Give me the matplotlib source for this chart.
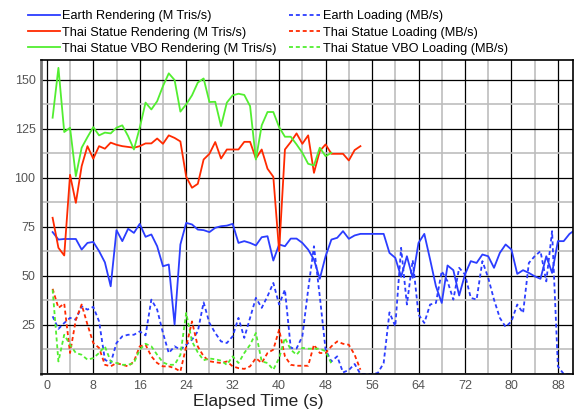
import numpy as np
import matplotlib as mpl
mpl.use('Agg')
import matplotlib.pyplot as plt
from matplotlib.ticker import MultipleLocator

plt.rcParams['font.family'] = ['Liberation Sans', 'DejaVu Sans']

# values read per ~1 s sample
earth_render = [72.3, 68.5, 68.8, 68.8, 68.8, 63.4, 66.8, 67.3, 62.6, 56.9,
                44.7, 73.3, 67.7, 74.0, 71.9, 76.5, 69.9, 71.1, 65.1, 54.9,
                55.8, 25.2, 66.0, 77.0, 76.2, 73.6, 73.3, 72.3, 74.5, 75.3,
                75.6, 76.5, 66.8, 67.7, 66.8, 65.5, 69.7, 70.2, 57.8, 66.0,
                65.1, 69.0, 69.0, 66.8, 63.4, 58.3, 48.5, 60.0, 68.5, 69.4,
                72.8, 68.9, 70.6, 71.4, 71.4, 71.4, 71.4, 71.4, 61.7, 59.2,
                49.5, 60.0, 49.0, 66.8, 71.4, 58.3, 44.7, 36.2, 55.3, 52.9,
                40.0, 50.7, 57.5, 56.6, 60.9, 60.0, 54.1, 61.7, 66.0, 63.4,
                51.0, 52.9, 51.5, 49.8, 48.5, 60.0, 51.5, 67.7, 67.7, 71.4,
                73.5]
thai_render = [79.6, 64.3, 60.4, 101.5, 87.2, 105.9, 116.1, 109.7, 116.1, 114.8,
               117.9, 116.8, 116.1, 115.7, 115.3, 116.1, 117.5, 117.5, 120.0, 117.3,
               121.6, 120.3, 118.5, 100.5, 94.9, 96.9, 109.3, 112.2, 118.2, 109.8,
               114.4, 114.4, 114.4, 118.3, 118.3, 109.8, 114.4, 104.6, 100.5, 62.6,
               114.4, 118.2, 122.6, 117.3, 121.6, 102.5, 113.6, 117.0, 112.2, 112.2,
               112.2, 108.8, 114.1, 116.1]
vbo_render = [130.6, 156.0, 123.3, 125.5, 100.8, 115.3, 120.7, 125.8, 121.6, 123.0,
              122.6, 125.5, 126.7, 121.2, 114.4, 125.5, 138.3, 134.8, 139.0, 146.7,
              153.2, 149.8, 133.7, 137.4, 142.0, 148.5, 150.6, 138.6, 138.7, 126.3,
              138.3, 142.0, 142.8, 142.2, 136.5, 109.3, 126.7, 133.5, 133.5, 125.8,
              120.9, 120.9, 117.0, 112.7, 107.1, 106.3, 115.3, 111.0, 112.7]
earth_load = [29.4, 23.0, 26.0, 28.6, 27.7, 34.5, 32.8, 34.2, 26.8, 7.3,
              5.6, 15.8, 19.2, 20.0, 20.0, 21.7, 19.7, 37.9, 32.8, 20.9,
              10.7, 14.1, 12.4, 14.9, 17.5, 21.7, 36.5, 26.0, 20.9, 16.6,
              15.8, 19.2, 28.6, 18.4, 28.6, 38.8, 33.7, 39.6, 46.4, 35.4,
              43.0, 13.3, 13.0, 19.2, 43.0, 65.1, 39.6, 12.4, 6.4, 9.0,
              0.8, 2.0, 5.1, 0.0, 0.0, 0.0, 0.5, 5.6, 31.4, 24.3,
              64.3, 35.4, 58.0, 30.3, 26.0, 35.4, 36.2, 52.4, 47.2, 37.9,
              54.1, 50.7, 38.8, 37.9, 57.5, 49.0, 37.9, 28.6, 24.0, 26.8,
              35.4, 31.1, 56.6, 60.0, 62.6, 47.2, 72.8, 3.9, 0.0, 0.0,
              0.0]
thai_load = [43.4, 33.7, 35.9, 10.7, 27.7, 35.4, 25.2, 15.8, 13.3, 4.7,
             3.9, 5.6, 4.7, 3.9, 6.4, 14.1, 14.9, 9.0, 5.6, 3.9,
             3.9, 3.0, 1.3, 14.0, 26.8, 14.0, 9.0, 6.5, 6.0, 5.6,
             6.4, 3.9, 3.0, 2.6, 3.9, 8.1, 5.6, 10.7, 12.4, 22.6,
             9.0, 4.7, 4.2, 4.2, 4.2, 14.9, 10.7, 10.7, 14.1, 16.6,
             15.4, 14.9, 9.8, 2.2]
vbo_load = [43.0, 6.4, 20.0, 14.9, 10.7, 9.8, 7.3, 8.1, 10.7, 14.1,
            6.4, 5.6, 4.7, 4.7, 5.6, 12.4, 15.4, 14.1, 9.8, 5.9,
            4.7, 4.7, 9.8, 31.1, 16.6, 11.0, 7.0, 7.9, 7.5, 6.8,
            4.7, 9.0, 5.6, 10.7, 14.9, 20.9, 6.4, 5.6, 2.2, 8.1,
            18.4, 12.4, 9.8, 13.3, 12.9, 12.9, 12.9, 11.6, 5.3]

labels = ['Earth Rendering (M Tris/s)', 'Thai Statue Rendering (M Tris/s)',
          'Thai Statue VBO Rendering (M Tris/s)', 'Earth Loading (MB/s)',
          'Thai Statue Loading (MB/s)', 'Thai Statue VBO Loading (MB/s)']

blue, red, green = '#2b3dff', '#ff2a00', '#52ee30'

fig = plt.figure(figsize=(5.74, 4.12), dpi=100)
ax = fig.add_axes([41 / 574, 1 - 374 / 412, 532 / 574, 314 / 412])

def t(v):
    return np.arange(1, len(v) + 1)

lw = 1.3
dash = (2.2, 1.6)
lines = []
lines += ax.plot(t(earth_render), earth_render, color=blue, lw=lw)
lines += ax.plot(t(thai_render), thai_render, color=red, lw=lw)
lines += ax.plot(t(vbo_render), vbo_render, color=green, lw=lw)
lines += ax.plot(t(earth_load), earth_load, color=blue, lw=lw, dashes=dash)
lines += ax.plot(t(thai_load), thai_load, color=red, lw=lw, dashes=dash)
lines += ax.plot(t(vbo_load), vbo_load, color=green, lw=lw, dashes=dash)

ax.set_xlim(-1.0, 90.6)
ax.set_ylim(0, 160)
ax.xaxis.set_major_locator(MultipleLocator(8))
ax.xaxis.set_minor_locator(MultipleLocator(4))
ax.yaxis.set_major_locator(MultipleLocator(25))
ax.yaxis.set_minor_locator(MultipleLocator(12.5))
ax.set_yticks([25, 50, 75, 100, 125, 150])
ax.grid(which='major', color='k', lw=0.9)
ax.grid(which='minor', color='#bdbdbd', lw=1.2)
ax.set_axisbelow(True)
ax.tick_params(which='both', length=0, labelsize=9, colors='#555555', pad=4)
for s in ax.spines.values():
    s.set_color('k')
    s.set_linewidth(1.2)
ax.spines['left'].set_color('#777777')
ax.spines['left'].set_linewidth(2)
ax.set_xlabel('Elapsed Time (s)', fontsize=12.5, color='#222222')
ax.xaxis.set_label_coords(0.409, -0.064, transform=ax.transAxes)
ax.xaxis.label.set_va('top')

fig.legend(lines, labels, ncol=2, frameon=False, loc='upper left',
           bbox_to_anchor=(28 / 574, 0.975), fontsize=9.2, handlelength=2.5,
           handletextpad=0.2, columnspacing=0.9, labelspacing=0.33, borderpad=0,
           borderaxespad=0)

fig.savefig('out.png', dpi=100)
